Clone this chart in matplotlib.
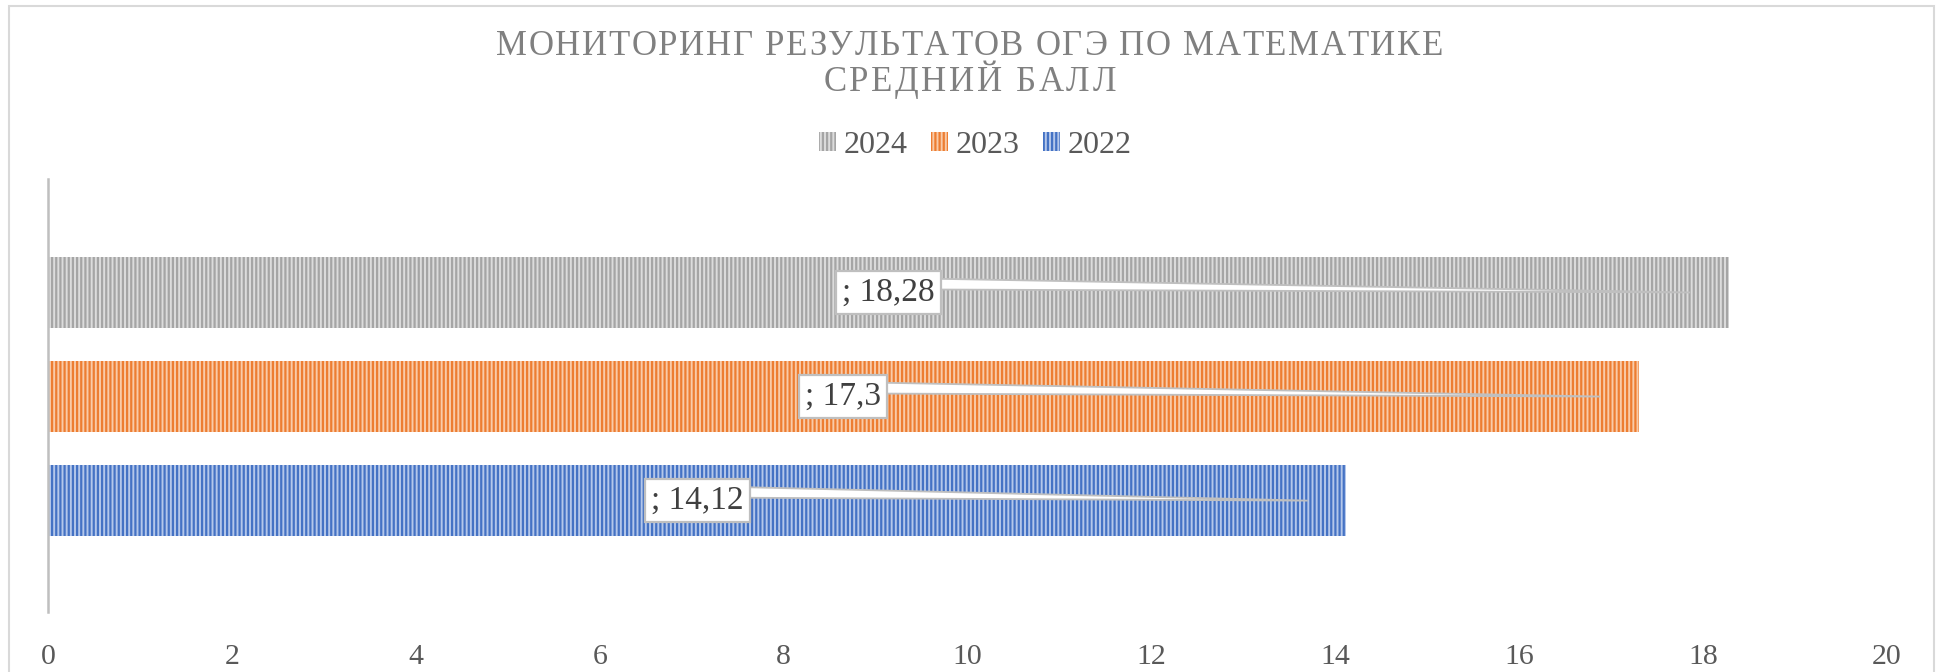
import matplotlib
matplotlib.use("Agg")
import matplotlib.pyplot as plt
from matplotlib.patches import Polygon, Rectangle, Patch

# данные
years = ["2022", "2023", "2024"]
scores = [14.12, 17.3, 18.28]
label_texts = ["; 14,12", "; 17,3", "; 18,28"]
xticks = [0, 2, 4, 6, 8, 10, 12, 14, 16, 18, 20]
title_lines = ["МОНИТОРИНГ РЕЗУЛЬТАТОВ ОГЭ ПО МАТЕМАТИКЕ", "СРЕДНИЙ БАЛЛ"]

stripe = {"2022": "#4472C4", "2023": "#ED7D31", "2024": "#A5A5A5"}
base = {"2022": "#b4c7ea", "2023": "#f9cba8", "2024": "#dcdcdc"}

plt.rcParams["font.family"] = ["Liberation Serif", "DejaVu Serif"]
plt.rcParams["hatch.linewidth"] = 1.6

fig = plt.figure(figsize=(19.39, 6.72), dpi=100)
ax = fig.add_axes([0.0248, 0.0893, 0.9484, 0.6443])


def spaced_text(fig, y, s, size, color, gap_px):
    """строка по центру фигуры с разрядкой букв"""
    r = fig.canvas.get_renderer()
    W = fig.bbox.width
    parts = []
    widths = []
    for ch in s:
        t = fig.text(0, y, ch, fontsize=size, color=color, va="center", ha="left")
        w = t.get_window_extent(r).width
        if ch == " ":
            w = size * 0.25 * fig.dpi / 72
        parts.append(t)
        widths.append(w)
    total = sum(widths) + gap_px * (len(s) - 1)
    x = (W - total) / 2
    for t, w in zip(parts, widths):
        t.set_x(x / W)
        x += w + gap_px


ys = list(range(len(years)))
for y, yr, v in zip(ys, years, scores):
    ax.barh(y, v, height=0.68, color=base[yr], edgecolor=stripe[yr],
            hatch="||||", linewidth=0, zorder=2)

# подписи данных с выносками
for y, v, txt in zip(ys, scores, label_texts):
    mid = v / 2
    tip = v - 0.42
    wedge = Polygon([(mid, y + 0.14), (tip, y), (mid, y + 0.03)], closed=True,
                    facecolor="white", edgecolor="#bfbfbf", lw=1.3, zorder=3)
    ax.add_patch(wedge)
    ax.text(mid, y, txt, ha="center", va="center", fontsize=24, color="#404040",
            zorder=4,
            bbox=dict(boxstyle="square,pad=0.18", fc="white", ec="#bfbfbf", lw=1.6))

ax.set_xlim(0, 20)
ax.set_ylim(-1.07, 3.09)
ax.set_xticks(xticks)
ax.set_xticklabels([str(t) for t in xticks])
ax.set_yticks([])
ax.tick_params(axis="x", length=0, pad=23, labelsize=21.5, labelcolor="#595959")
for s in ["top", "right", "bottom"]:
    ax.spines[s].set_visible(False)
ax.spines["left"].set_color("#bfbfbf")
ax.spines["left"].set_linewidth(1.8)
ax.spines["left"].set_zorder(5)

spaced_text(fig, 0.9315, title_lines[0], 25, "#808080", 1.65)
spaced_text(fig, 0.8765, title_lines[1], 25, "#808080", 2.6)

handles = [Patch(facecolor=base[yr], edgecolor=stripe[yr], hatch="||||", linewidth=0)
           for yr in ["2024", "2023", "2022"]]
fig.legend(handles, ["2024", "2023", "2022"], loc="center", bbox_to_anchor=(0.503, 0.784),
           ncol=3, frameon=False, fontsize=23, handlelength=0.53, handleheight=0.53,
           handletextpad=0.22, columnspacing=0.75, labelcolor="#595959")

fig.patches.append(Rectangle((9 / 1939, -0.02), 1925 / 1939, 1.02 - 6 / 672,
                             transform=fig.transFigure, fill=False,
                             edgecolor="#d9d9d9", lw=1.5))

fig.savefig("out.png", dpi=100, facecolor="white")
